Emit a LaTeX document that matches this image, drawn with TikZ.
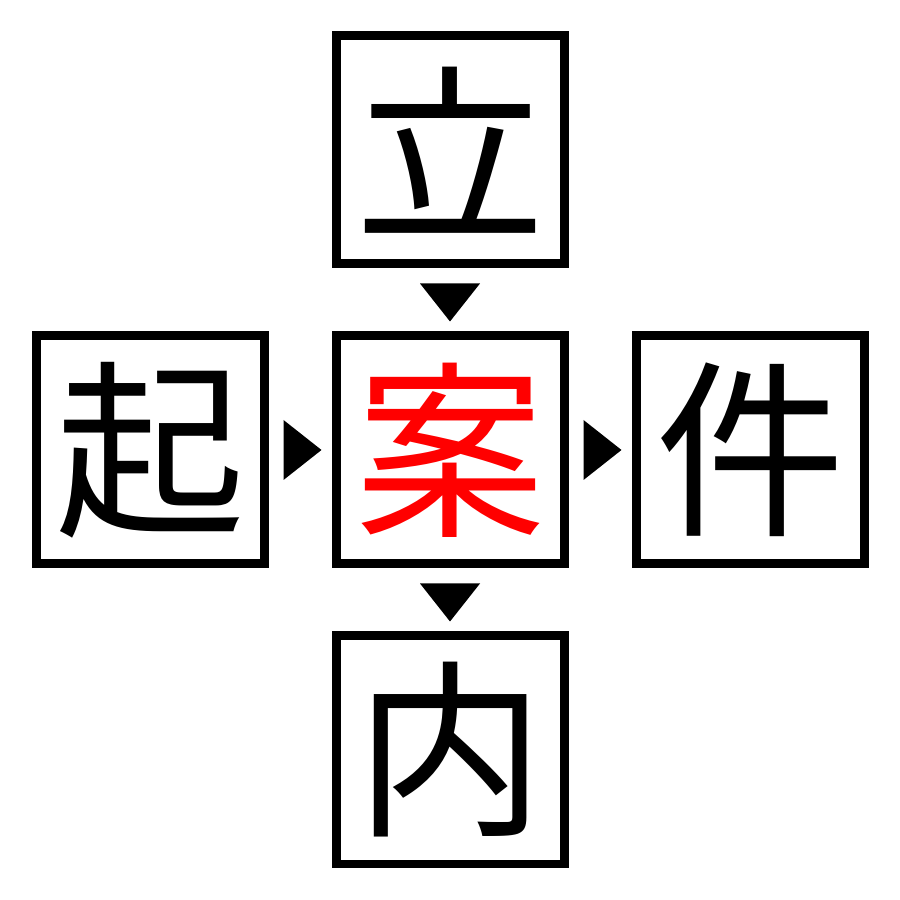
\documentclass[tikz,border=0pt]{standalone}
\usepackage{fontspec}
\newfontfamily\cjk{Noto Sans CJK JP}
\usetikzlibrary{calc}
\tikzset{
  charbox/.style={draw=black, line width=0.09cm, minimum size=2.28cm, inner sep=0pt, font=\cjk\fontsize{54}{54}\selectfont},
  tri/.style={fill=black, draw=none}
}
\begin{document}
\begin{tikzpicture}
\useasboundingbox (0,0) rectangle (9,9);
\node[charbox] (top) at (4.5,7.5) {立};
\node[charbox, text=red] (mid) at (4.5,4.5) {案};
\node[charbox] (left) at (1.5,4.5) {起};
\node[charbox] (right) at (7.5,4.5) {件};
\node[charbox] (bot) at (4.5,1.5) {内};
% down arrow top -> mid
\fill[tri] ($(top.south)+(-0.3,-0.15)$) -- ($(top.south)+(0.3,-0.15)$) -- ($(mid.north)+(0,0.1)$) -- cycle;
% down arrow mid -> bot
\fill[tri] ($(mid.south)+(-0.3,-0.15)$) -- ($(mid.south)+(0.3,-0.15)$) -- ($(bot.north)+(0,0.1)$) -- cycle;
% right arrow left -> mid
\fill[tri] ($(left.east)+(0.15,0.3)$) -- ($(left.east)+(0.15,-0.3)$) -- ($(mid.west)+(-0.1,0)$) -- cycle;
% right arrow mid -> right
\fill[tri] ($(mid.east)+(0.15,0.3)$) -- ($(mid.east)+(0.15,-0.3)$) -- ($(right.west)+(-0.1,0)$) -- cycle;
\end{tikzpicture}
\end{document}
